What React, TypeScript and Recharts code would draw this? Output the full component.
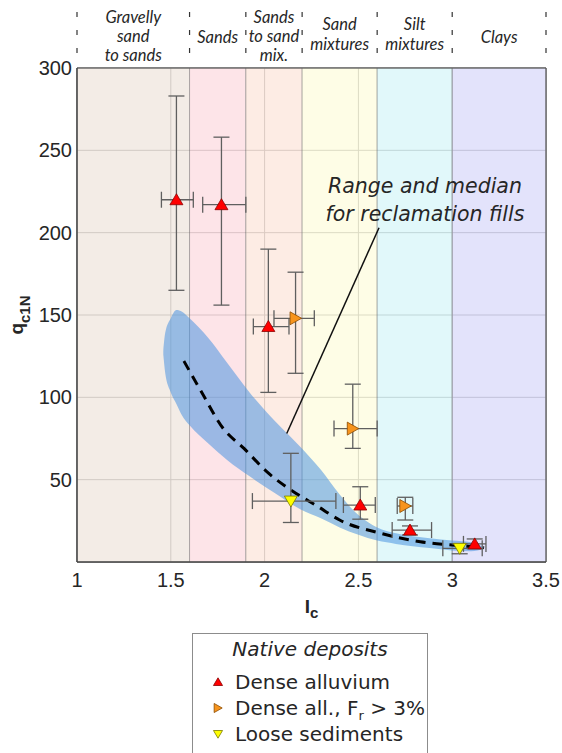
import {
	Area,
	CartesianGrid,
	ComposedChart,
	ErrorBar,
	Line,
	ReferenceArea,
	ReferenceDot,
	ReferenceLine,
	Scatter,
	XAxis,
	YAxis,
} from "recharts";

// soil behaviour type zones (Ic boundaries)
const zoneStart = [1, 1.6, 1.9, 2.2, 2.6, 3.0];
const zoneEnd = [1.6, 1.9, 2.2, 2.6, 3.0, 3.5];
const zoneLabels = [
	["Gravelly", "sand", "to sands"],
	["Sands"],
	["Sands", "to sand", "mix."],
	["Sand", "mixtures"],
	["Silt", "mixtures"],
	["Clays"],
];
const zoneFills = ["#efe5de", "#fcdbe0", "#fce6db", "#fefcde", "#d7f6f8", "#dadafa"];

const xTicks = [1, 1.5, 2, 2.5, 3, 3.5];
const yTicks = [50, 100, 150, 200, 250, 300];

// range of reclamation fills (band) and median
const bandX = [1.46, 1.47, 1.5, 1.53, 1.56, 1.6, 1.7, 1.8, 1.92, 2.06, 2.19, 2.3, 2.4, 2.5, 2.6, 2.7, 2.88, 3.0, 3.1, 3.17];
const bandLow = [126, 115, 103, 96, 89, 83, 72, 62, 52, 41.5, 32, 26.5, 21, 16.5, 13, 11, 8.5, 7, 6.5, 8];
const bandHigh = [128, 139, 148, 153, 152, 148, 136, 121, 103, 85, 70, 56, 41, 28.5, 21, 17.4, 14.4, 13, 12, 9];

const medianX = [1.57, 1.66, 1.78, 1.89, 2.01, 2.15, 2.28, 2.4, 2.62, 2.83, 3.0, 3.17];
const medianY = [122, 104, 81, 69, 55, 43, 34, 25.5, 17.4, 12.3, 10.3, 8.7];

// native deposits: dense alluvium
const denseX = [1.53, 1.77, 2.02, 2.51, 2.775, 3.12];
const denseY = [220, 217, 143, 34.6, 19.4, 11];
const denseXLo = [1.45, 1.67, 1.94, 2.42, 2.68, 3.06];
const denseXHi = [1.62, 1.9, 2.13, 2.59, 2.89, 3.18];
const denseYLo = [165, 156, 103, 26, 16.4, 8];
const denseYHi = [283, 258, 190, 45.7, 21.9, 14];

// dense alluvium, Fr > 3%
const finesX = [2.165, 2.47, 2.75];
const finesY = [148, 81, 34];
const finesXLo = [2.05, 2.37, 2.707];
const finesXHi = [2.265, 2.6, 2.79];
const finesYLo = [114.6, 69, 25.5];
const finesYHi = [176, 108, 39.3];

// loose sediments
const looseX = [2.14, 3.04];
const looseY = [37, 8.3];
const looseXLo = [1.935, 2.95];
const looseXHi = [2.38, 3.16];
const looseYLo = [24, 5];
const looseYHi = [66, 11];

const bandData = bandX.map((x, i) => ({ x, band: [bandLow[i], bandHigh[i]] }));
const medianData = medianX.map((x, i) => ({ x, y: medianY[i] }));

function toPoints(xs: number[], ys: number[], xLo: number[], xHi: number[], yLo: number[], yHi: number[]) {
	return xs.map((x, i) => ({
		x,
		y: ys[i],
		xErr: [x - xLo[i], xHi[i] - x],
		yErr: [ys[i] - yLo[i], yHi[i] - ys[i]],
	}));
}

const densePoints = toPoints(denseX, denseY, denseXLo, denseXHi, denseYLo, denseYHi);
const finesPoints = toPoints(finesX, finesY, finesXLo, finesXHi, finesYLo, finesYHi);
const loosePoints = toPoints(looseX, looseY, looseXLo, looseXHi, looseYLo, looseYHi);

const TEXT = "#262626";
const ERR = "#5f5f5f";

function triangle(dir: "up" | "right" | "down", cx: number, cy: number, s = 1) {
	if (dir === "up") return `${cx},${cy - 6 * s} ${cx - 6.5 * s},${cy + 5 * s} ${cx + 6.5 * s},${cy + 5 * s}`;
	if (dir === "right") return `${cx - 5.5 * s},${cy - 6.5 * s} ${cx + 6 * s},${cy} ${cx - 5.5 * s},${cy + 6.5 * s}`;
	return `${cx - 6.5 * s},${cy - 5 * s} ${cx + 6.5 * s},${cy - 5 * s} ${cx},${cy + 6 * s}`;
}

const markerStyle = {
	up: { fill: "#ff0000", stroke: "#8a0000" },
	right: { fill: "#f7941d", stroke: "#8a4a00" },
	down: { fill: "#ffff00", stroke: "#7a7a00" },
};

const makeShape = (dir: "up" | "right" | "down") => (props: any) => (
	<polygon
		points={triangle(dir, props.cx, props.cy)}
		fill={markerStyle[dir].fill}
		stroke={markerStyle[dir].stroke}
		strokeWidth={0.8}
	/>
);

// baselines above the plot top, per number of lines
const lineBaselines: Record<number, number[]> = { 1: [25], 2: [38.5, 18], 3: [45, 26, 7] };

const zoneLabel = (lines: string[], last: boolean) => (props: any) => {
	const { x, y, width } = props.viewBox;
	const base = lineBaselines[lines.length];
	const dash = (px: number) => (
		<line x1={px} x2={px} y1={y - 56} y2={y - 4} stroke="#333" strokeWidth={1.2} strokeDasharray="5 13" />
	);
	return (
		<g>
			{dash(x)}
			{last && dash(x + width)}
			{lines.map((t, i) => (
				<text
					key={t}
					x={x + width / 2}
					y={y - base[i]}
					textAnchor="middle"
					fontFamily="Lato"
					fontStyle="italic"
					fontSize={16.5}
					fill={TEXT}
				>
					{t}
				</text>
			))}
		</g>
	);
};

const yLabel = (props: any) => {
	const { y, height } = props.viewBox;
	const cx = 23;
	const cy = y + height / 2;
	return (
		<text
			x={cx}
			y={cy}
			transform={`rotate(-90, ${cx}, ${cy})`}
			textAnchor="middle"
			fontFamily="Liberation Sans"
			fontWeight="bold"
			fontSize={19}
			fill={TEXT}
		>
			q<tspan fontSize={15} dy={7}>c1N</tspan>
		</text>
	);
};

const xLabel = (props: any) => {
	const { x, y, width } = props.viewBox;
	return (
		<text
			x={x + width / 2}
			y={y + 51}
			textAnchor="middle"
			fontFamily="Liberation Sans"
			fontWeight="bold"
			fontSize={19}
			fill={TEXT}
		>
			I<tspan fontSize={15} dy={5}>c</tspan>
		</text>
	);
};

const noteLabel = (props: any) => {
	const { x, y } = props.viewBox;
	return (
		<g fontFamily="DejaVu Sans" fontStyle="italic" fontSize={20.5} fill={TEXT} textAnchor="middle">
			<text x={x} y={y}>Range and median</text>
			<text x={x} y={y + 28}>for reclamation fills</text>
		</g>
	);
};

const tickStyle = { fontFamily: "Liberation Sans", fontSize: 20, fill: TEXT };

function LegendMarker({ dir }: { dir: "up" | "right" | "down" }) {
	return (
		<svg width={14} height={14} style={{ position: "absolute", left: 18, top: 6 }}>
			<polygon points={triangle(dir, 7, 7, 0.7)} fill={markerStyle[dir].fill} stroke={markerStyle[dir].stroke} strokeWidth={0.8} />
		</svg>
	);
}

const legendItems: { dir: "up" | "right" | "down"; label: any; top: number }[] = [
	{ dir: "up", label: "Dense alluvium", top: 35 },
	{
		dir: "right",
		label: (
			<>
				Dense all., F<sub style={{ fontSize: 13, lineHeight: 0 }}>r</sub> &gt; 3%
			</>
		),
		top: 61,
	},
	{ dir: "down", label: "Loose sediments", top: 87 },
];

export default function App() {
	return (
		<div style={{ position: "absolute", left: 0, top: 0, width: 562, height: 753, background: "#fff", overflow: "hidden" }}>
			<ComposedChart width={562} height={625} margin={{ top: 68, right: 16, left: 0, bottom: 18 }}>
				<CartesianGrid stroke="#777" strokeWidth={1} />
				<XAxis
					type="number"
					dataKey="x"
					domain={[1, 3.5]}
					ticks={xTicks}
					allowDataOverflow
					tick={tickStyle}
					tickLine={false}
					tickSize={9}
					axisLine={{ stroke: "#444" }}
					height={45}
					label={xLabel}
				/>
				<YAxis
					type="number"
					dataKey="y"
					domain={[0, 300]}
					ticks={yTicks}
					allowDataOverflow
					tick={tickStyle}
					tickLine={false}
					tickSize={3}
					axisLine={{ stroke: "#444" }}
					width={77}
					label={yLabel}
				/>
				{zoneStart.map((s, i) => (
					<ReferenceArea
						key={s}
						x1={s}
						x2={zoneEnd[i]}
						y1={0}
						y2={300}
						fill={zoneFills[i]}
						fillOpacity={0.75}
						stroke="#777"
						strokeOpacity={0.45}
						label={zoneLabel(zoneLabels[i], i === zoneStart.length - 1)}
					/>
				))}
				<ReferenceArea x1={1} x2={3.5} y1={0} y2={300} fill="none" stroke="#555" strokeWidth={1} />
				<Area
					data={bandData}
					dataKey="band"
					type="monotone"
					fill="#4a94e0"
					fillOpacity={0.55}
					stroke="none"
					isAnimationActive={false}
				/>
				<Line
					data={medianData}
					dataKey="y"
					type="monotone"
					stroke="#000"
					strokeWidth={3}
					strokeDasharray="10 7"
					dot={false}
					isAnimationActive={false}
				/>
				<ReferenceLine
					segment={[
						{ x: 2.118, y: 78 },
						{ x: 2.61, y: 203 },
					]}
					stroke="#111"
					strokeWidth={1.5}
				/>
				<ReferenceDot x={2.855} y={224} r={0} fill="none" stroke="none" label={noteLabel} />
				<Scatter data={densePoints} shape={makeShape("up")} isAnimationActive={false}>
					<ErrorBar dataKey="yErr" direction="y" width={8} stroke={ERR} strokeWidth={1.3} />
					<ErrorBar dataKey="xErr" direction="x" width={8} stroke={ERR} strokeWidth={1.3} />
				</Scatter>
				<Scatter data={finesPoints} shape={makeShape("right")} isAnimationActive={false}>
					<ErrorBar dataKey="yErr" direction="y" width={8} stroke={ERR} strokeWidth={1.3} />
					<ErrorBar dataKey="xErr" direction="x" width={8} stroke={ERR} strokeWidth={1.3} />
				</Scatter>
				<Scatter data={loosePoints} shape={makeShape("down")} isAnimationActive={false}>
					<ErrorBar dataKey="yErr" direction="y" width={8} stroke={ERR} strokeWidth={1.3} />
					<ErrorBar dataKey="xErr" direction="x" width={8} stroke={ERR} strokeWidth={1.3} />
				</Scatter>
			</ComposedChart>
			<div
				style={{
					position: "absolute",
					left: 192,
					top: 633,
					width: 234,
					height: 140,
					border: "1px solid #8c8c8c",
					background: "#fff",
					fontFamily: "DejaVu Sans",
					fontSize: 20,
					color: TEXT,
				}}
			>
				<div style={{ position: "absolute", top: 2, left: 0, width: "100%", textAlign: "center", fontStyle: "italic", lineHeight: "26px" }}>
					Native deposits
				</div>
				{legendItems.map((it) => (
					<div key={it.dir} style={{ position: "absolute", top: it.top, left: 0, width: "100%", height: 26 }}>
						<LegendMarker dir={it.dir} />
						<span style={{ position: "absolute", left: 42, top: 0, lineHeight: "26px", whiteSpace: "nowrap" }}>{it.label}</span>
					</div>
				))}
			</div>
		</div>
	);
}
